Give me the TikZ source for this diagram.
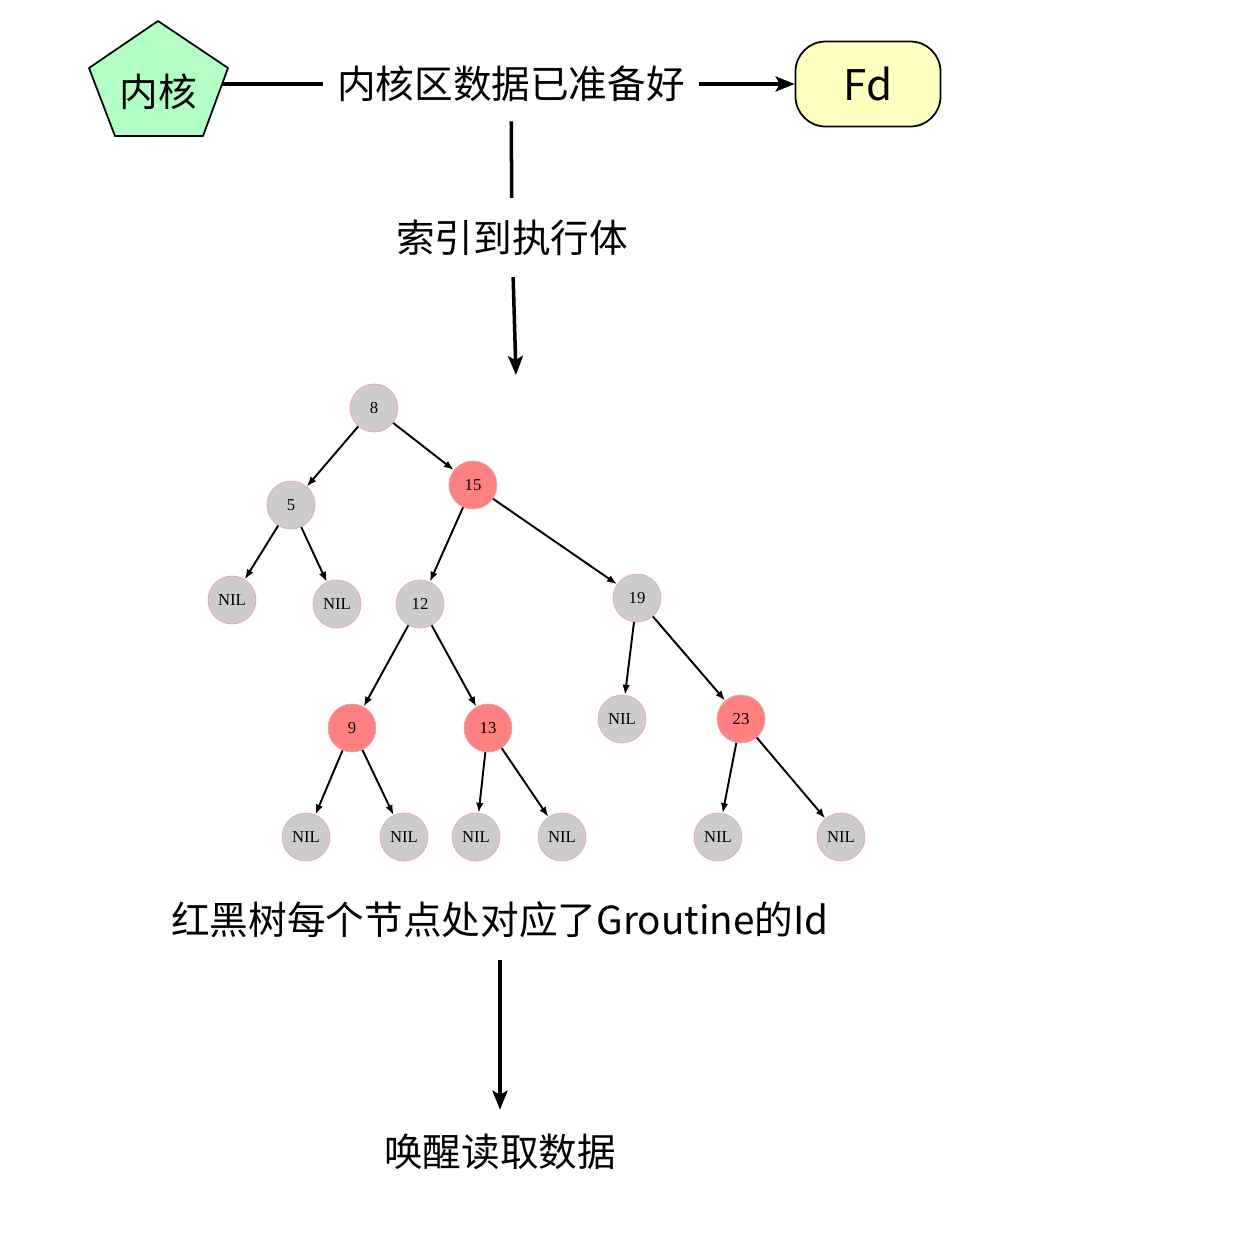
\documentclass[tikz,border=0pt]{standalone}
\usepackage{fontspec}
\setmainfont{Noto Sans CJK SC}
\newfontfamily\treefont{Liberation Serif}
\usetikzlibrary{positioning,arrows,arrows.meta}
\definecolor{kgreen}{HTML}{B3FFC6}
\definecolor{fdyellow}{HTML}{FFFFC0}
\definecolor{tgray}{HTML}{CCCCCC}
\definecolor{tred}{HTML}{FF8080}
\definecolor{tpink}{HTML}{E6A8B8}

\begin{document}
\begin{tikzpicture}[x=0.02cm,y=-0.02cm,
	lbl/.style={inner sep=0.28cm,font=\fontsize{22}{26}\selectfont},
	blk/.style={circle,fill=tgray,draw=tpink,line width=0.4pt,minimum size=0.96cm,inner sep=0pt,font=\treefont\fontsize{9.5}{10}\selectfont},
	rd/.style={blk,fill=tred},
	edge/.style={-{Latex[length=0.2cm,width=0.15cm]},line width=1.1pt},
	link/.style={line width=2pt},
	flow/.style={-{Stealth[length=0.38cm,width=0.3cm,inset=0.08cm]},line width=2pt}]

		\useasboundingbox (0,0) rectangle (1249,1234);

		%top row
		\draw[fill=kgreen,line width=1pt,line join=round] (158,21) -- (228,68) -- (203,136) -- (115,136) -- (89,68) -- cycle;
		\node[minimum width=2.56cm,inner sep=0pt,font=\fontsize{22}{26}\selectfont] (kern) at (158,92) {内核};
		\node[lbl] (ready) at (511,84) {内核区数据已准备好};
		\node[draw,rounded corners=0.6cm,fill=fdyellow,line width=1pt,minimum width=2.9cm,minimum height=1.7cm,font=\fontsize{24}{28}\selectfont] (fd) at (868,84) {Fd};
		\node[lbl] (index) at (512,238) {索引到执行体};
		\coordinate (top) at (516,375);

		%top edges
		\draw[link] (kern.east |- ready) -- (ready);
		\draw[flow] (ready) -- (fd);
		\draw[link,shorten <=0.1cm,shorten >=0.16cm] (ready) -- (index);
		\draw[flow,shorten <=0.14cm] (index) -- (top);

		%tree nodes
		\node[blk] (n8) at (374,408) {8};
		\node[blk] (n5) at (291,505) {5};
		\node[rd] (n15) at (473,485) {15};
		\node[blk] (nil1) at (232,600) {NIL};
		\node[blk] (nil2) at (337,604) {NIL};
		\node[blk] (n12) at (420,604) {12};
		\node[blk] (n19) at (637,598) {19};
		\node[rd] (n9) at (352,728) {9};
		\node[rd] (n13) at (488,728) {13};
		\node[blk] (nil3) at (622,719) {NIL};
		\node[rd] (n23) at (741,719) {23};
		\node[blk] (nil4) at (306,837) {NIL};
		\node[blk] (nil5) at (404,837) {NIL};
		\node[blk] (nil6) at (476,837) {NIL};
		\node[blk] (nil7) at (562,837) {NIL};
		\node[blk] (nil8) at (718,837) {NIL};
		\node[blk] (nil9) at (841,837) {NIL};

		%tree edges
		\draw[edge] (n8) -- (n5);
		\draw[edge] (n8) -- (n15);
		\draw[edge] (n5) -- (nil1);
		\draw[edge] (n5) -- (nil2);
		\draw[edge] (n15) -- (n12);
		\draw[edge] (n15) -- (n19);
		\draw[edge] (n12) -- (n9);
		\draw[edge] (n12) -- (n13);
		\draw[edge] (n19) -- (nil3);
		\draw[edge] (n19) -- (n23);
		\draw[edge] (n9) -- (nil4);
		\draw[edge] (n9) -- (nil5);
		\draw[edge] (n13) -- (nil6);
		\draw[edge] (n13) -- (nil7);
		\draw[edge] (n23) -- (nil8);
		\draw[edge] (n23) -- (nil9);

		%bottom
		\node[lbl] (map) at (500,920) {红黑树每个节点处对应了Groutine的Id};
		\node[lbl] (wake) at (500,1152) {唤醒读取数据};
		\draw[flow,shorten <=0.16cm,shorten >=0.2cm] (map) -- (wake);

		\end{tikzpicture}
\end{document}
